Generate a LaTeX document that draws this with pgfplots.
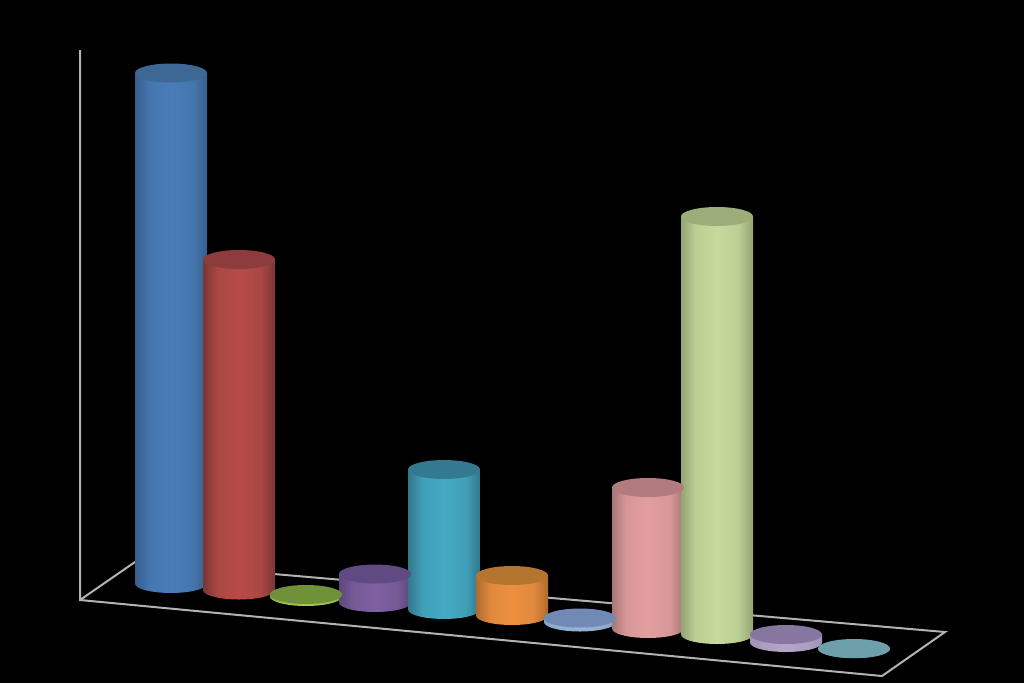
\documentclass[border=0pt]{standalone}
\usepackage{pgfplots}
\pgfplotsset{compat=1.18}
\newcommand{\mkcyl}[5]{% name, edge, soft, mid, cap
  \definecolor{#1E}{HTML}{#2}\definecolor{#1S}{HTML}{#3}\definecolor{#1M}{HTML}{#4}\definecolor{#1C}{HTML}{#5}%
  \pgfdeclarehorizontalshading{shade#1}{100bp}{color(0bp)=(#1E);color(25bp)=(#1E);color(35bp)=(#1S);color(50bp)=(#1M);color(65bp)=(#1S);color(75bp)=(#1E);color(100bp)=(#1E)}%
}
\mkcyl{blue}{385F8D}{4476AE}{4A7DB8}{3D6795}
\mkcyl{red}{7A3735}{AC4744}{B84B48}{8C3D3B}
\mkcyl{green}{8FAE42}{A0BE4C}{A8C755}{6F9139}
\mkcyl{purple}{5C4879}{765A97}{7F60A2}{5F4A82}
\mkcyl{teal}{317789}{419FB9}{46A9C4}{33798F}
\mkcyl{orange}{AE6B30}{E0893D}{EE8F40}{B5752F}
\mkcyl{ltblue}{8AA3C6}{90ADD0}{97B4D8}{7189B5}
\mkcyl{pink}{A87676}{D89797}{E29E9E}{B27C7E}
\mkcyl{ltgreen}{94A473}{BCCF93}{C7DA9C}{9BAE79}
\mkcyl{lav}{A193B5}{AD9DC1}{B5A4CA}{8577A0}
\mkcyl{cyan}{6FA0AC}{6FA0AC}{6FA0AC}{6EA0AC}
\pgfdeclareplotmark{capmark}{\pgfpathellipse{\pgfpointorigin}{\pgfqpoint{36pt}{0pt}}{\pgfqpoint{0pt}{9.5pt}}\pgfusepathqfill}
% \cyl{centre x}{top y}{bottom y}{name}: body outline (straight sides, front arc of the base) and cap
\newcommand{\cyl}[4]{%
  \pgfmathsetmacro{\xa}{#1-36}\pgfmathsetmacro{\xb}{#1+36}%
  \gdef\pts{}%
  \foreach \a in {0,10,...,180}{\pgfmathsetmacro{\px}{#1+36*cos(\a)}\pgfmathsetmacro{\py}{#3+9.5*sin(\a)}\xdef\pts{\pts(\px,\py)}}%
  \edef\tmp{\noexpand\addplot[draw=none,shading=shade#4,mark=none] coordinates {(\xa,#2)(\xb,#2)\pts} --cycle;}\tmp
  \addplot[only marks,mark=capmark,mark options={fill=#4C,draw=none}] coordinates {(#1,#2)};
}
\begin{document}
\begin{tikzpicture}
\begin{axis}[scale only axis,width=1024pt,height=683pt,xmin=0,xmax=1024,ymin=0,ymax=683,y dir=reverse,hide axis]
\addplot[fill=black,draw=none] coordinates {(0,0)(1024,0)(1024,683)(0,683)} --cycle;
\addplot[color=black!30,line width=2pt,mark=none] coordinates {(80,50)(80,600)(882,676)(945,632)(135,562)(80,600)};
\cyl{171}{73}{583.5}{blue}
\cyl{239}{259.5}{590}{red}
\cyl{306}{594.5}{596.5}{green}
\cyl{375}{574}{602.5}{purple}
\cyl{444}{469.5}{609.5}{teal}
\cyl{512}{575.5}{615.5}{orange}
\cyl{580}{618}{622}{ltblue}
\cyl{648}{487.5}{628.5}{pink}
\cyl{717}{216.5}{634.5}{ltgreen}
\cyl{786}{634.5}{642.5}{lav}
\cyl{854}{648.5}{648.7}{cyan}
\end{axis}
\end{tikzpicture}
\end{document}
